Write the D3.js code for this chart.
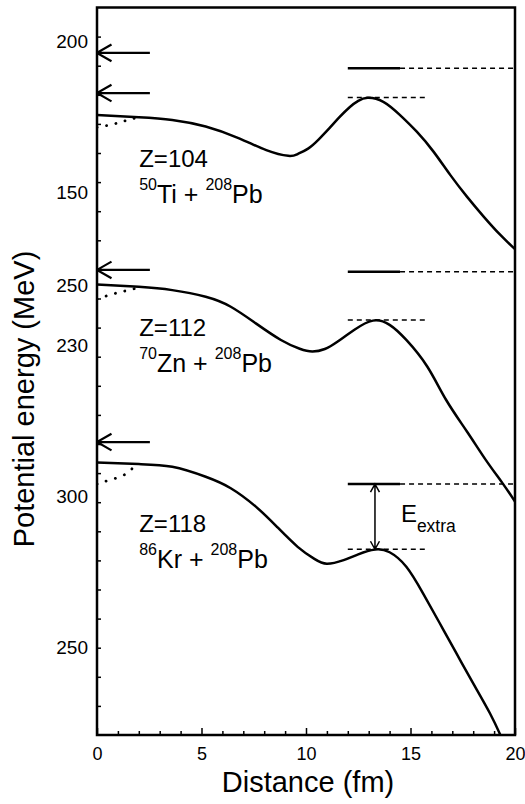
<!DOCTYPE html>
<html>
<head>
<meta charset="utf-8">
<script src="https://cdn.jsdelivr.net/npm/d3@7"></script>
<style>
  body { margin: 0; background: #fff; }
  text { font-family: "Liberation Sans", Arial, sans-serif; fill: #000; }
</style>
</head>
<body>
<svg id="chart" width="525" height="804"></svg>
<script>
// systems shown, top to bottom
const systems = ['Z=104', 'Z=112', 'Z=118'];
const projectiles = [
  { mass: '50', el: 'Ti' },
  { mass: '70', el: 'Zn' },
  { mass: '86', el: 'Kr' }
];
const targetMass = '208';
const targetEl = 'Pb';
// energy labels per panel (MeV)
const yTickLabels = [[200, 150], [250, 230], [300, 250]];

// potential energy vs distance [fm, MeV]
const potential104 = [[0, 175.7], [2, 175.0], [3.6, 174.1], [5.2, 171.9], [6.8, 168.0], [8.1, 164.1],
  [9.15, 162.2], [9.6, 162.8], [10.1, 164.6], [10.6, 167.6], [11.1, 171.2], [11.6, 175.0], [12.1, 178.4],
  [12.5, 180.4], [12.95, 181.4], [13.7, 180.1], [14.5, 175.7], [15.3, 170.2], [16.1, 163.6],
  [16.9, 155.9], [17.7, 148.7], [18.5, 142.1], [19.3, 136.0], [20, 131.3]];
const potential112 = [[0, 250.2], [2, 249.4], [3.6, 248.3], [5.2, 246.1], [6.4, 242.8], [7.6, 237.3],
  [8.8, 231.8], [9.7, 228.9], [10.3, 228.0], [10.9, 228.8], [11.5, 231.2], [12.3, 235.1], [13.2, 238.2],
  [14.0, 236.8], [14.8, 231.8], [15.8, 223.0], [16.7, 212.0], [17.7, 201.5], [18.6, 192.1],
  [19.4, 184.4], [20, 178.3]];
const potential118 = [[0, 311.3], [2, 310.8], [3.6, 309.9], [5.2, 306.6], [6.4, 302.8], [7.6, 296.7],
  [8.6, 290.1], [9.6, 283.4], [10.4, 279.4], [11.0, 277.8], [11.8, 279.0], [12.5, 280.9],
  [13.3, 282.5], [14.0, 281.6], [14.8, 276.8], [15.6, 268.0], [16.4, 258.1], [17.2, 248.1],
  [18.0, 238.2], [18.8, 228.3], [19.3, 221.1], [19.5, 218.0]];
// dotted inner branch
const dotted104 = [[0, 171.6], [0.6, 172.4], [1.1, 173.3], [1.5, 174.1], [2, 175.0]];
const dotted112 = [[0, 245.3], [0.6, 246.7], [1.2, 247.8], [1.7, 248.6], [2, 249.4]];
const dotted118 = [[0, 304.2], [0.6, 305.5], [1.3, 307.2], [1.7, 309.4], [2, 310.8]];

// left arrows, beam level and barrier top (MeV)
const arrowEnergies = [[196.3, 183.0], [255.0], [318.1]];
const levelEnergies = [191.2, 254.4, 304.2];
const barrierEnergies = [181.5, 238.4, 282.6];

const potentials = [potential104, potential112, potential118];
const dotted = [dotted104, dotted112, dotted118];

const plotLeft = 97, plotRight = 515, plotTop = 7.5, plotBottom = 735;
const svg = d3.select('#chart');

const x = d3.scaleLinear().domain([0, 20]).range([plotLeft, plotRight]);
const yPanel = [
  d3.scaleLinear().domain([200, 150]).range([41.7, 192.7]),
  d3.scaleLinear().domain([250, 230]).range([285, 345.4]),
  d3.scaleLinear().domain([300, 250]).range([496.7, 647.7])
];
const yTicks = d3.scaleLinear().domain([0, 25]).range([plotBottom, plotTop]);

svg.append('clipPath').attr('id', 'plot-clip')
  .append('rect')
  .attr('x', plotLeft).attr('y', plotTop)
  .attr('width', plotRight - plotLeft).attr('height', plotBottom - plotTop);

// x axis
const xAxis = svg.append('g')
  .attr('transform', `translate(0,${plotBottom})`)
  .call(d3.axisBottom(x).tickValues(d3.range(0, 21)).tickSize(0).tickPadding(12)
    .tickFormat(d => (d % 5 === 0 ? d : '')));
xAxis.select('.domain').remove();
xAxis.selectAll('.tick line')
  .attr('y2', d => (d % 5 === 0 ? -7 : -4))
  .attr('stroke', '#000').attr('stroke-width', 1.5);
xAxis.selectAll('text').attr('font-size', 18).attr('font-family', null);

// y minor ticks
const yAxis = svg.append('g')
  .attr('transform', `translate(${plotLeft},0)`)
  .call(d3.axisRight(yTicks).tickValues(d3.range(1, 25)).tickSize(4).tickFormat(''));
yAxis.select('.domain').remove();
yAxis.selectAll('.tick line').attr('stroke', '#000').attr('stroke-width', 1.5);

// y labels per panel
yTickLabels.forEach((vals, i) => {
  svg.append('g').selectAll('text')
    .data(vals)
    .enter()
    .append('text')
    .attr('x', 88)
    .attr('y', d => yPanel[i](d))
    .attr('dy', '0.35em')
    .attr('text-anchor', 'end')
    .attr('font-size', 19)
    .text(d => d);
});

const plot = svg.append('g').attr('clip-path', 'url(#plot-clip)');

potentials.forEach((pts, i) => {
  const y = yPanel[i];
  const line = d3.line().x(d => x(d[0])).y(d => y(d[1])).curve(d3.curveNatural);

  plot.append('path')
    .datum(pts)
    .attr('d', line)
    .attr('fill', 'none')
    .attr('stroke', '#000')
    .attr('stroke-width', 2.5);

  plot.append('path')
    .datum(dotted[i])
    .attr('d', line)
    .attr('fill', 'none')
    .attr('stroke', '#000')
    .attr('stroke-width', 2.8)
    .attr('stroke-linecap', 'round')
    .attr('stroke-dasharray', '0.1,9.5');

  // beam level: solid then dashed
  plot.append('line')
    .attr('x1', x(12)).attr('x2', x(14.5))
    .attr('y1', y(levelEnergies[i])).attr('y2', y(levelEnergies[i]))
    .attr('stroke', '#000').attr('stroke-width', 2.5);
  plot.append('line')
    .attr('x1', x(14.5)).attr('x2', x(20))
    .attr('y1', y(levelEnergies[i])).attr('y2', y(levelEnergies[i]))
    .attr('stroke', '#000').attr('stroke-width', 1.5).attr('stroke-dasharray', '5,4');

  // barrier top
  plot.append('line')
    .attr('x1', x(12)).attr('x2', x(15.8))
    .attr('y1', y(barrierEnergies[i])).attr('y2', y(barrierEnergies[i]))
    .attr('stroke', '#000').attr('stroke-width', 1.5).attr('stroke-dasharray', '5,4');

  // arrows from the left axis
  arrowEnergies[i].forEach(e => {
    const ay = y(e);
    plot.append('path')
      .attr('d', `M${x(0)},${ay}H${x(2.53)}M${x(0) + 14.5},${ay - 8.3}L${x(0)},${ay}L${x(0) + 14.5},${ay + 8.3}`)
      .attr('fill', 'none')
      .attr('stroke', '#000')
      .attr('stroke-width', 2.2);
  });

  // labels
  const lx = x(2.02);
  svg.append('text')
    .attr('x', lx)
    .attr('y', y(barrierEnergies[i]) + [69.6, 16, -17][i])
    .attr('font-size', 24)
    .text(systems[i]);
  const t = svg.append('text')
    .attr('x', lx)
    .attr('y', y(barrierEnergies[i]) + [105.6, 52, 19][i])
    .attr('font-size', 25);
  t.append('tspan').attr('font-size', 16).attr('dy', -13).text(projectiles[i].mass);
  t.append('tspan').attr('dy', 13).text(projectiles[i].el + ' + ');
  t.append('tspan').attr('font-size', 16).attr('dy', -13).text(targetMass);
  t.append('tspan').attr('dy', 13).text(targetEl);
});

// E_extra arrow in the lowest panel
const y3 = yPanel[2];
const ax = x(13.3), ya = y3(levelEnergies[2]), yb = y3(barrierEnergies[2]);
plot.append('path')
  .attr('d', `M${ax},${ya}V${yb}M${ax - 4.5},${ya + 8}L${ax},${ya}L${ax + 4.5},${ya + 8}M${ax - 4.5},${yb - 8}L${ax},${yb}L${ax + 4.5},${yb - 8}`)
  .attr('fill', 'none')
  .attr('stroke', '#000')
  .attr('stroke-width', 1.5);
const et = svg.append('text')
  .attr('x', x(14.54))
  .attr('y', y3(291.7))
  .attr('font-size', 24);
et.append('tspan').text('E');
et.append('tspan').attr('font-size', 17.5).attr('dy', 10).text('extra');

// frame
svg.append('rect')
  .attr('x', plotLeft).attr('y', plotTop)
  .attr('width', plotRight - plotLeft).attr('height', plotBottom - plotTop)
  .attr('fill', 'none')
  .attr('stroke', '#000')
  .attr('stroke-width', 2.5);

// axis titles
svg.append('text')
  .attr('transform', 'translate(33.5,399) rotate(-90)')
  .attr('text-anchor', 'middle')
  .attr('font-size', 29)
  .text('Potential energy (MeV)');
svg.append('text')
  .attr('x', 308)
  .attr('y', 792)
  .attr('text-anchor', 'middle')
  .attr('font-size', 29)
  .text('Distance (fm)');
</script>
</body>
</html>
